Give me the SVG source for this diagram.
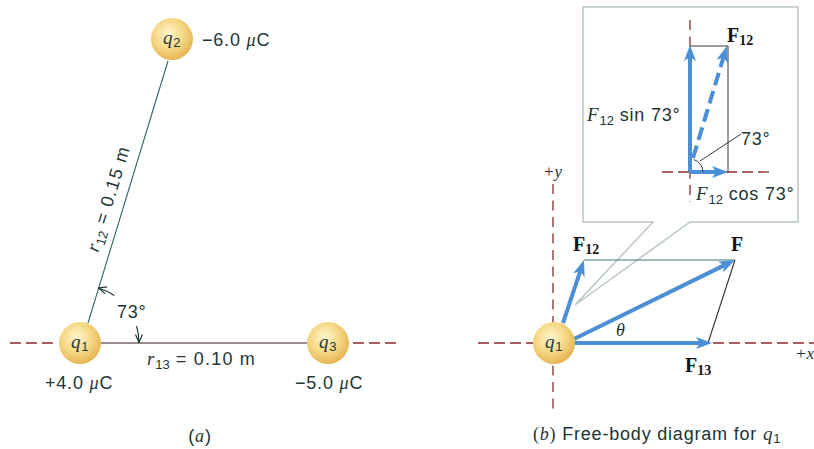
<svg xmlns="http://www.w3.org/2000/svg" width="814" height="449" viewBox="0 0 814 449">
<style>
.t{font-family:"Liberation Sans",Arial,sans-serif;font-size:18px;fill:#1d3535;letter-spacing:0.8px}
.it{font-family:"Liberation Serif","Times New Roman",serif;font-style:italic}
.bf{font-family:"Liberation Serif","Times New Roman",serif;font-weight:bold;font-size:20px;fill:#151515}
.sub{font-family:"Liberation Sans",Arial,sans-serif;font-size:13px;letter-spacing:0}
.axis{stroke:#8b2b2b;stroke-width:1.3;stroke-dasharray:11 5;fill:none}
.vaxis{stroke:#8b2b2b;stroke-width:1.3;stroke-dasharray:10 6.5;fill:none}
.blue{stroke:#4b8fd7;stroke-width:4;fill:none;marker-end:url(#ah)}
.thin{stroke:#3a3a3a;stroke-width:1;fill:none}
</style>
<defs>
<radialGradient id="sph" cx="42%" cy="38%" r="62%">
<stop offset="0" stop-color="#fff6d0"/>
<stop offset="0.55" stop-color="#f6d987"/>
<stop offset="1" stop-color="#e6b655"/>
</radialGradient>
<marker id="ah" viewBox="0 0 16 12" markerWidth="16" markerHeight="12" refX="5" refY="6" orient="auto" markerUnits="userSpaceOnUse">
<path d="M0,0 L16,6 L0,12 L4,6 z" fill="#4b8fd7"/>
</marker>
<marker id="sa" viewBox="0 0 10 8" markerWidth="10" markerHeight="8" refX="9" refY="4" orient="auto" markerUnits="userSpaceOnUse">
<path d="M1,0.5 L9,4 L1,7.5" fill="none" stroke="#1d3535" stroke-width="1.2"/>
</marker>
</defs>

<!-- Panel (a) connectors -->
<g id="connectors-a">
<line class="axis" x1="10" y1="343" x2="58" y2="343"/>
<line class="axis" x1="353" y1="343" x2="399" y2="343"/>
<line x1="168" y1="61" x2="88" y2="323" stroke="#2d6464" stroke-width="1.1"/>
<line x1="100" y1="343" x2="308" y2="343" stroke="#3a1c1c" stroke-width="1.2"/>
<path d="M114.3,295.5 A58,58 0 0 0 98.5,288" fill="none" stroke="#1d3535" stroke-width="1.1" marker-end="url(#sa)"/>
<path d="M136.5,326 A58,58 0 0 1 139,342.5" fill="none" stroke="#1d3535" stroke-width="1.1" marker-end="url(#sa)"/>
</g>

<g id="q2">
<circle cx="172" cy="39" r="21" fill="url(#sph)"/>
<text class="t" x="163" y="44"><tspan class="it" font-size="19">q</tspan><tspan class="sub" dy="3">2</tspan></text>
<text class="t" x="202" y="46">−6.0 <tspan class="it">μ</tspan>C</text>
</g>
<g id="q1a">
<circle cx="80" cy="343" r="21" fill="url(#sph)"/>
<text class="t" x="71" y="348"><tspan class="it" font-size="19">q</tspan><tspan class="sub" dy="3">1</tspan></text>
<text class="t" x="45" y="389">+4.0 <tspan class="it">μ</tspan>C</text>
</g>
<g id="q3">
<circle cx="328" cy="343" r="21" fill="url(#sph)"/>
<text class="t" x="319" y="348"><tspan class="it" font-size="19">q</tspan><tspan class="sub" dy="3">3</tspan></text>
<text class="t" x="295" y="389">−5.0 <tspan class="it">μ</tspan>C</text>
</g>
<g id="labels-a">
<text class="t" transform="translate(98,253) rotate(-73)"><tspan class="it" font-size="19">r</tspan><tspan class="sub" dy="4">12</tspan><tspan dy="-4" letter-spacing="1.3"> = 0.15 m</tspan></text>
<text class="t" x="147" y="365"><tspan class="it" font-size="19">r</tspan><tspan class="sub" dy="4">13</tspan><tspan dy="-4" letter-spacing="1.2"> = 0.10 m</tspan></text>
<text class="t" x="117" y="318">73°</text>
<text class="t" x="200" y="442" text-anchor="middle" font-family="Liberation Serif" letter-spacing="0">(<tspan class="it">a</tspan>)</text>
</g>

<!-- Panel (b) -->
<g id="axes-b">
<line class="vaxis" x1="553" y1="184" x2="553" y2="410"/>
<line class="axis" x1="478" y1="343" x2="534" y2="343"/>
<line class="axis" x1="713" y1="343" x2="814" y2="343"/>
<text x="543" y="177" font-family="Liberation Serif" font-style="italic" font-size="17" fill="#1d3535">+y</text>
<text x="795" y="359" font-family="Liberation Serif" font-style="italic" font-size="17" fill="#1d3535">+x</text>
</g>

<g id="callout">
<path d="M583,7 H798 V222 H690 L575,305 L653,222 H583 Z" fill="#ffffff" stroke="#b9c6c6" stroke-width="1.5"/>
<line class="vaxis" x1="690" y1="20" x2="690" y2="202" stroke-dasharray="9 6"/>
<line class="axis" x1="662" y1="172" x2="770" y2="172" stroke-dasharray="9 6"/>
<polyline class="thin" points="690,46 728,46 728,172"/>
<line class="blue" x1="690" y1="172" x2="690" y2="56"/>
<line class="blue" x1="690" y1="172" x2="717" y2="172"/>
<line class="blue" x1="693" y1="158" x2="723.7" y2="56.5" stroke-dasharray="13 6"/>
<path d="M693.8,159.6 A13,13 0 0 1 703,172" class="thin"/>
<line class="thin" x1="700" y1="161" x2="741" y2="134"/>
<text class="bf" x="727" y="42">F<tspan font-size="14" dy="3">12</tspan></text>
<text class="t" x="587" y="121"><tspan class="it" font-size="19">F</tspan><tspan class="sub" dy="4">12</tspan><tspan dy="-4"> sin 73°</tspan></text>
<text class="t" x="741" y="145">73°</text>
<text class="t" x="696" y="200"><tspan class="it" font-size="19">F</tspan><tspan class="sub" dy="4">12</tspan><tspan dy="-4"> cos 73°</tspan></text>
</g>

<g id="connectors-b">
<line x1="584" y1="260" x2="735" y2="260" stroke="#3a7a7a" stroke-width="1.1"/>
<line x1="735" y1="260" x2="708" y2="343" stroke="#3a2a2a" stroke-width="1.1"/>
<line class="blue" x1="575" y1="343" x2="701" y2="343"/>
<line class="blue" x1="574" y1="339" x2="725.1" y2="264.9"/>
<line class="blue" x1="563" y1="323" x2="580.5" y2="270.4"/>
</g>

<g id="q1b">
<circle cx="554" cy="343" r="21" fill="url(#sph)"/>
<text class="t" x="545" y="348"><tspan class="it" font-size="19">q</tspan><tspan class="sub" dy="3">1</tspan></text>
</g>

<g id="labels-b">
<text class="bf" x="573" y="251">F<tspan font-size="14" dy="3">12</tspan></text>
<text class="bf" x="731" y="251">F</text>
<text x="616" y="336" font-family="Liberation Serif" font-style="italic" font-size="18" fill="#1d3535">θ</text>
<text class="bf" x="685" y="372">F<tspan font-size="14" dy="3">13</tspan></text>
<text class="t" x="533" y="440" letter-spacing="0"><tspan font-family="Liberation Serif">(<tspan font-style="italic">b</tspan>)</tspan> Free-body diagram for <tspan class="it" font-size="19">q</tspan><tspan class="sub" dy="3">1</tspan></text>
</g>
</svg>
